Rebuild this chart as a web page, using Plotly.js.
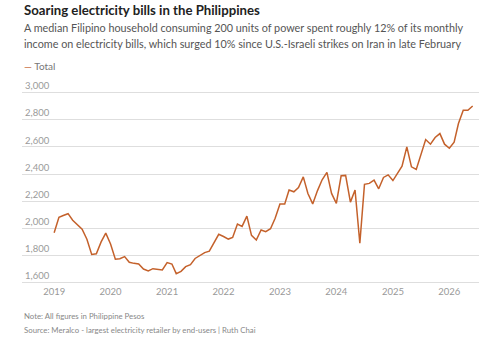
<!DOCTYPE html>
<html>
<head>
<meta charset="utf-8">
<script src="https://cdn.plot.ly/plotly-3.0.1.min.js"></script>
<style>html,body{margin:0;padding:0;background:#fff;}#chart{width:500px;height:340px;}</style>
</head>
<body>
<div id="chart"></div>
<script>
// Monthly median household bill (PHP), Jan 2019 – Jun 2026
const years = [2019, 2020, 2021, 2022, 2023, 2024, 2025, 2026];
const v2019 = [1968, 2081, 2095, 2108, 2060, 2025, 1993, 1920, 1808, 1813, 1900, 1965];
const v2020 = [1885, 1772, 1776, 1792, 1750, 1742, 1737, 1700, 1686, 1703, 1697, 1693];
const v2021 = [1748, 1737, 1666, 1683, 1718, 1732, 1778, 1800, 1821, 1832, 1893, 1956];
const v2022 = [1940, 1921, 1933, 2032, 2014, 2090, 1948, 1914, 1988, 1975, 1997, 2074];
const v2023 = [2179, 2179, 2282, 2269, 2301, 2379, 2257, 2180, 2278, 2358, 2412, 2257];
const v2024 = [2184, 2387, 2390, 2193, 2282, 1890, 2324, 2331, 2355, 2291, 2375, 2394];
const v2025 = [2352, 2404, 2458, 2600, 2453, 2434, 2539, 2654, 2620, 2669, 2698, 2620];
const v2026 = [2590, 2635, 2772, 2870, 2870, 2901];
const seriesName = 'Total';
const yTicks = [1600, 1800, 2000, 2200, 2400, 2600, 2800, 3000];

const byYear = [v2019, v2020, v2021, v2022, v2023, v2024, v2025, v2026];
const dates = [], values = [];
byYear.forEach((arr, i) => {
  arr.forEach((v, m) => {
    dates.push(years[i] + '-' + String(m + 1).padStart(2, '0') + '-01');
    values.push(v);
  });
});

const LINE = '#c4612b';
const FONT = 'Lato, "Open Sans", sans-serif';

// pixel geometry helpers
const T = 78.7, B = 284.06, H = B - T;
const py = p => (B - p) / H;

const layout = {
  width: 500, height: 340,
  margin: {l: 22, r: 21, t: T, b: 340 - B, pad: 0},
  paper_bgcolor: '#fff', plot_bgcolor: '#fff',
  showlegend: false,
  font: {family: FONT, color: '#999'},
  xaxis: {
    type: 'date',
    range: ['2018-06-07', '2026-07-12'],
    tick0: '2019-01-01', dtick: 'M12', tickformat: '%Y',
    showgrid: false, zeroline: false, showline: false,
    ticks: '', tickfont: {size: 9.5, color: '#999', family: FONT}
  },
  yaxis: {
    range: [1590, 3100],
    tickvals: yTicks,
    tickformat: ',d',
    ticklabelposition: 'inside top',
    showgrid: true, gridcolor: '#dedede', gridwidth: 1,
    zeroline: false, showline: false, ticks: '',
    tickfont: {size: 9.5, color: '#9a9a9a', family: FONT}
  },
  annotations: [
    {xref: 'paper', yref: 'paper', x: 0, y: py(10), xanchor: 'left', yanchor: 'middle', showarrow: false,
     text: '<b>Soaring electricity bills in the Philippines</b>', font: {size: 13.2, color: '#222', family: FONT}},
    {xref: 'paper', yref: 'paper', x: 0, y: py(27.2), xanchor: 'left', yanchor: 'middle', showarrow: false,
     text: 'A median Filipino household consuming 200 units of power spent roughly 12% of its monthly', font: {size: 10.8, color: '#555', family: FONT}},
    {xref: 'paper', yref: 'paper', x: 0, y: py(42.7), xanchor: 'left', yanchor: 'middle', showarrow: false,
     text: 'income on electricity bills, which surged 10% since U.S.-Israeli strikes on Iran in late February', font: {size: 10.8, color: '#555', family: FONT}},
    {xref: 'paper', yref: 'paper', x: 0, y: py(66), xanchor: 'left', yanchor: 'middle', showarrow: false,
     text: '<span style="color:' + LINE + '">—</span> ' + seriesName, font: {size: 10, color: '#777', family: FONT}},
    {xref: 'paper', yref: 'paper', x: 0, y: py(315.7), xanchor: 'left', yanchor: 'middle', showarrow: false,
     text: 'Note: All figures in Philippine Pesos', font: {size: 7.8, color: '#888', family: FONT}},
    {xref: 'paper', yref: 'paper', x: 0, y: py(330), xanchor: 'left', yanchor: 'middle', showarrow: false,
     text: 'Source: Meralco - largest electricity retailer by end-users | Ruth Chai', font: {size: 7.8, color: '#888', family: FONT}}
  ]
};

Plotly.newPlot('chart', [{
  type: 'scatter', mode: 'lines', name: seriesName,
  x: dates, y: values,
  line: {color: LINE, width: 1.5}
}], layout, {displayModeBar: false, staticPlot: true});
</script>
</body>
</html>
